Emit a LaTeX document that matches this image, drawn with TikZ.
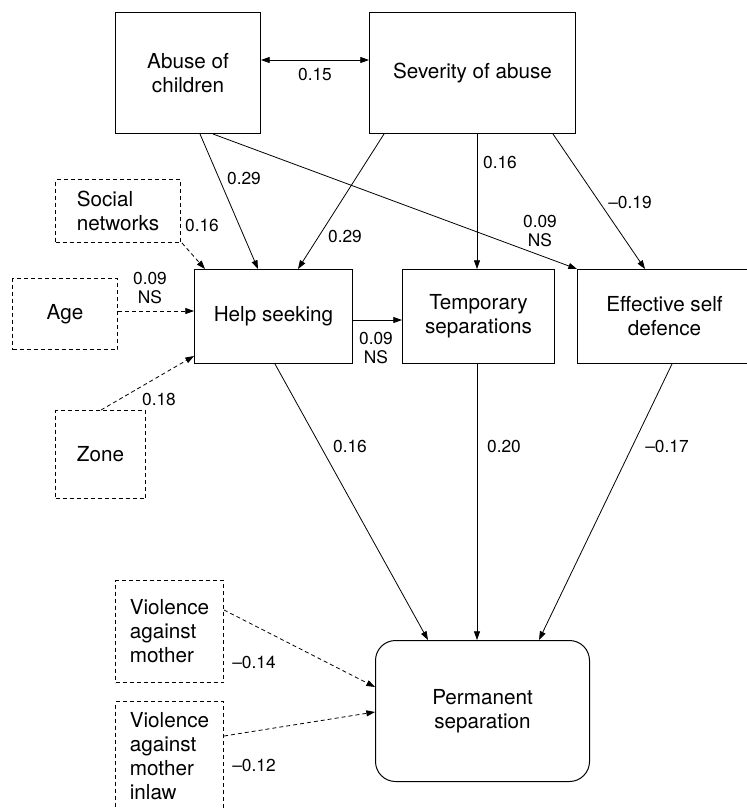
\documentclass[tikz,border=0pt]{standalone}
\usepackage{fontspec}
\setmainfont{TeX Gyre Heros}
\usetikzlibrary{arrows.meta,calc}
\begin{document}
\begin{tikzpicture}[x=0.75pt,y=-0.75pt,
  box/.style={draw, line width=0.75pt, inner sep=0pt, anchor=north west, align=center, font=\fontsize{15.5}{18}\selectfont},
  sz/.style 2 args={minimum width=#1*0.75pt, minimum height=#2*0.75pt},
  dbox/.style={box, dash pattern=on 3pt off 2.25pt, align=left},
  lab/.style={font=\fontsize{13}{14.3}\selectfont, align=center, inner sep=0pt},
  tip/.tip={Triangle[length=6.5pt,width=4.5pt]},
  conn/.style={line width=0.6pt, -tip},
  dconn/.style={conn, dash pattern=on 3pt off 2.25pt}]
\useasboundingbox (0,0) rectangle (747,808);

% boxes
\node[box, sz={145}{121}] (abuse) at (115,12) {Abuse of\\children};
\node[box, sz={206}{121}] (severity) at (369,12) {Severity of abuse};
\node[dbox, sz={125}{63}] (social) at (55,179) {Social\\networks};
\node[box, sz={158}{94}] (help) at (194,269) {Help seeking};
\node[dbox, sz={105}{71}] (age) at (12,278) {Age};
\node[dbox, sz={90}{88}] (zone) at (55,410) {Zone};
\node[box, sz={152}{94}] (temp) at (402,269) {Temporary\\separations};
\node[box, sz={174}{94}] (effect) at (577,269) {Effective self\\defence};
\node[dbox, sz={108}{102}] (vam) at (115,580) {Violence\\against\\mother};
\node[dbox, sz={108}{110}] (vami) at (115,701) {Violence\\against\\mother\\inlaw};
\node[box, sz={214}{141}, rounded corners=15pt] (perm) at (375,640) {Permanent\\separation};

% connectors
\draw[conn, tip-tip] ($(abuse.north east)+(0,48)$) -- ($(severity.north west)+(0,48)$);
\draw[conn] ($(abuse.south west)+(85,0)$) -- ($(help.north west)+(64,0)$);
\draw[conn] ($(abuse.south west)+(98,0)$) -- (effect.north west);
\draw[conn] ($(severity.south west)+(15,0)$) -- ($(help.north west)+(104,0)$);
\draw[conn] ($(severity.south west)+(108,0)$) -- ($(temp.north west)+(75,0)$);
\draw[conn] ($(severity.south west)+(184,0)$) -- ($(effect.north west)+(68,0)$);
\draw[dconn] ($(social.south east)+(1,0)$) -- ($(help.north west)+(11,0)$);
\draw[dconn] ($(age.north east)+(0,33)$) -- ($(help.north west)+(0,42)$);
\draw[dconn] ($(zone.north west)+(46,0)$) -- ($(help.south west)+(0,-8)$);
\draw[conn] ($(help.north east)+(0,51)$) -- ($(temp.north west)+(0,51)$);
\draw[conn] ($(help.south west)+(81,0)$) -- ($(perm.north west)+(53,0)$);
\draw[conn] ($(temp.south west)+(75,0)$) -- ($(perm.north west)+(102,0)$);
\draw[conn] ($(effect.south west)+(95,0)$) -- ($(perm.north west)+(164,0)$);
\draw[dconn] ($(vam.north east)+(0,30)$) -- ($(perm.north west)+(0,47)$);
\draw[dconn] ($(vami.north east)+(0,35)$) -- ($(perm.north west)+(0,72)$);

% labels
\node[lab] (l1) at (315,74) {0.15};
\node[lab] (l2) at (244,178) {0.29};
\node[lab] (l3) at (202,225) {0.16};
\node[lab] (l4) at (345,236) {0.29};
\node[lab] (l5) at (500,162) {0.16};
\node[lab] (l6) at (630,202) {\textendash0.19};
\node[lab] (l7) at (540,231) {0.09\\NS};
\node[lab] (l8) at (150,288) {0.09\\NS};
\node[lab] (l9) at (376,348) {0.09\\NS};
\node[lab] (l10) at (159,399) {0.18};
\node[lab] (l11) at (350,446) {0.16};
\node[lab] (l12) at (504,446) {0.20};
\node[lab] (l13) at (667,446) {\textendash0.17};
\node[lab] (l14) at (254,662) {\textendash0.14};
\node[lab] (l15) at (254,765) {\textendash0.12};
\end{tikzpicture}
\end{document}
